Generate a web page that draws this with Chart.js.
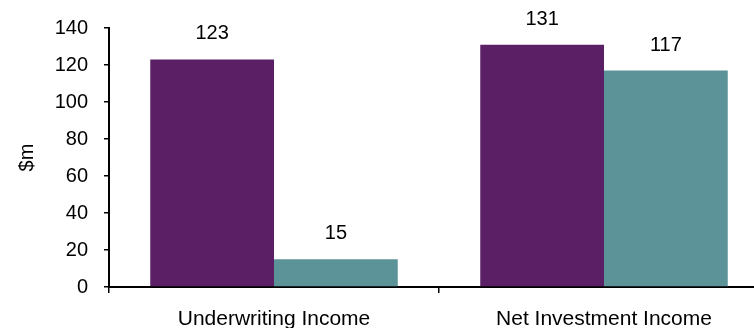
<!DOCTYPE html>
<html>
<head>
<meta charset="utf-8">
<script src="https://cdn.jsdelivr.net/npm/chart.js@4"></script>
<style>
  html, body { margin: 0; padding: 0; background: #fff; overflow: hidden; }
  #wrap { width: 775px; height: 328px; position: relative; }
</style>
</head>
<body>
<div id="wrap"><canvas id="chart"></canvas></div>
<script>
// ---------- DATA ----------
const categories = ["Underwriting Income", "Net Investment Income"];
const seriesA = [123, 131];   // purple
const seriesB = [15, 117];    // teal
const yTicks = [0, 20, 40, 60, 80, 100, 120, 140];

const FAMILY = "'Liberation Sans', Arial, sans-serif";
const NUM_FONT = { family: FAMILY, size: 20 };
const CAT_FONT = { family: FAMILY, size: 21 };

// value labels above bars
const barLabels = {
  id: 'barLabels',
  afterDatasetsDraw(chart) {
    const ctx = chart.ctx;
    ctx.save();
    ctx.font = `${NUM_FONT.size}px ${FAMILY}`;
    ctx.fillStyle = '#000';
    ctx.textAlign = 'center';
    ctx.textBaseline = 'alphabetic';
    chart.data.datasets.forEach((ds, i) => {
      chart.getDatasetMeta(i).data.forEach((bar, j) => {
        ctx.fillText(ds.data[j], bar.x, bar.y - 20);
      });
    });
    ctx.restore();
  }
};

new Chart(document.getElementById('chart'), {
  type: 'bar',
  data: {
    labels: categories,
    datasets: [
      { data: seriesA, backgroundColor: '#5b1f66', categoryPercentage: 0.75, barPercentage: 1 },
      { data: seriesB, backgroundColor: '#5b9399', categoryPercentage: 0.75, barPercentage: 1 }
    ]
  },
  options: {
    responsive: true,
    maintainAspectRatio: false,
    animation: false,
    layout: { padding: { top: 27, right: 6, left: 0, bottom: 0 } },
    plugins: { legend: { display: false }, tooltip: { enabled: false } },
    scales: {
      x: {
        afterFit: s => { s.height = 41; },
        grid: { display: true, drawOnChartArea: false, drawTicks: true, tickLength: 6, color: '#000', lineWidth: 1.5, offset: true },
        border: { display: true, color: '#000', width: 2 },
        ticks: { color: '#000', font: CAT_FONT, padding: 14, maxRotation: 0 }
      },
      y: {
        min: 0, max: 140,
        afterFit: s => { s.width = 109; },
        afterBuildTicks: s => { s.ticks = yTicks.map(v => ({ value: v })); },
        grid: { display: true, drawOnChartArea: false, drawTicks: true, tickLength: 5, color: '#000', lineWidth: 1.5 },
        border: { display: true, color: '#000', width: 2 },
        ticks: { color: '#000', font: NUM_FONT, padding: 16 },
        title: { display: true, text: '$m', color: '#000', font: NUM_FONT, padding: { top: 15, bottom: 0 } }
      }
    }
  },
  plugins: [barLabels]
});
</script>
</body>
</html>
